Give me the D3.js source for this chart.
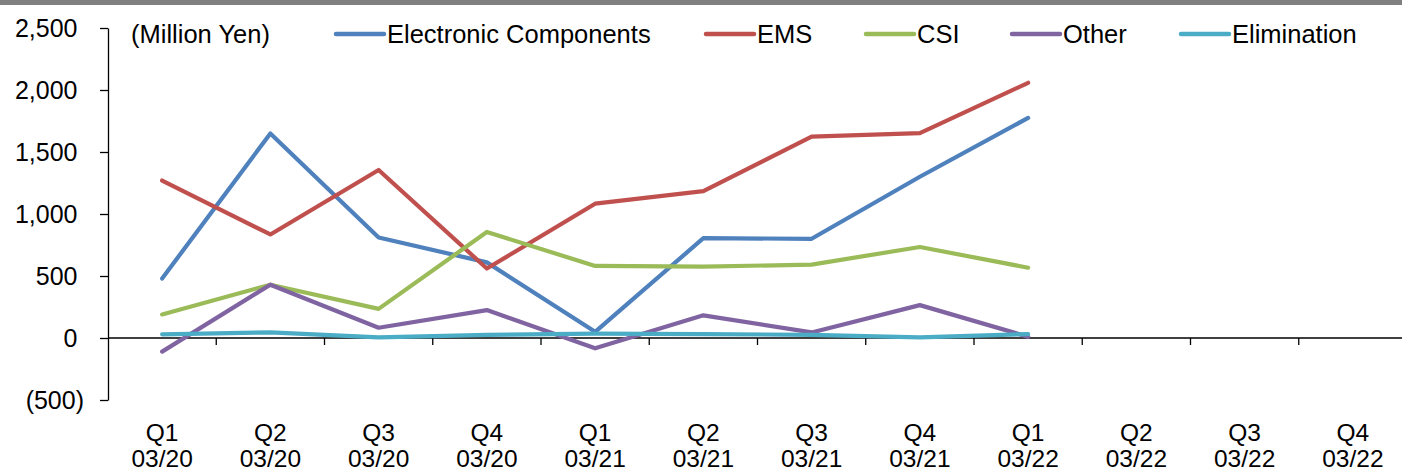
<!DOCTYPE html>
<html>
<head>
<meta charset="utf-8">
<script src="https://cdn.jsdelivr.net/npm/d3@7"></script>
<style>
  html, body { margin: 0; padding: 0; background: #fff; }
  svg { display: block; font-family: "Liberation Sans", Arial, sans-serif; }
</style>
</head>
<body>
<svg id="chart" width="1402" height="472"></svg>
<script>
// Quarterly segment figures (Million Yen)
const quarters = ["Q1", "Q2", "Q3", "Q4", "Q1", "Q2", "Q3", "Q4", "Q1", "Q2", "Q3", "Q4"];
const periods  = ["03/20", "03/20", "03/20", "03/20", "03/21", "03/21", "03/21", "03/21", "03/22", "03/22", "03/22", "03/22"];

const seriesNames = ["Electronic Components", "EMS", "CSI", "Other", "Elimination"];
const electronicComponents = [480, 1650, 810, 610, 50, 805, 800, 1300, 1775];
const ems                  = [1270, 835, 1355, 560, 1083, 1184, 1624, 1652, 2058];
const csi                  = [190, 430, 235, 855, 581, 575, 592, 734, 567];
const other                = [-110, 430, 83, 225, -83, 183, 45, 265, 10];
const elimination          = [30, 45, 5, 25, 35, 32, 25, 5, 32];

const yTicks = [2500, 2000, 1500, 1000, 500, 0, -500];
const unitLabel = "(Million Yen)";

const colors = ["#4F81BD", "#C0504D", "#9BBB59", "#8064A2", "#4BACC6"];
const seriesValues = [electronicComponents, ems, csi, other, elimination];

const svg = d3.select("#chart");
const W = 1402, H = 472;

// grey strip across the top
svg.append("rect").attr("x", 0).attr("y", 0).attr("width", W).attr("height", 5).attr("fill", "#808080");

const plotLeft = 108, plotRight = 1407;
const x = d3.scaleBand().domain(d3.range(quarters.length)).range([plotLeft, plotRight]).padding(0);
const y = d3.scaleLinear().domain([-500, 2500]).range([400, 28]);

const fmt = v => v < 0 ? "(" + d3.format(",")(-v) + ")" : d3.format(",")(v);

// y axis
const yAxis = svg.append("g")
  .attr("transform", `translate(${plotLeft},0)`)
  .call(d3.axisLeft(y).tickValues(yTicks).tickFormat(fmt).tickSizeOuter(0).tickSizeInner(8).tickPadding(24));
yAxis.select(".domain").attr("stroke", "#000").attr("stroke-width", 1.3);
yAxis.selectAll(".tick line").attr("stroke", "#000").attr("stroke-width", 1.3);
yAxis.selectAll(".tick text")
  .attr("fill", "#000")
  .style("font-size", "25px")
  .attr("x", d => d < 0 ? -24 : -30.5);

// zero line with category separators
const y0 = y(0);
svg.append("line")
  .attr("x1", plotLeft).attr("x2", W)
  .attr("y1", y0).attr("y2", y0)
  .attr("stroke", "#000").attr("stroke-width", 1.3);

svg.append("g").selectAll("line")
  .data(d3.range(1, quarters.length))
  .join("line")
  .attr("x1", i => x(i)).attr("x2", i => x(i))
  .attr("y1", y0).attr("y2", y0 + 7)
  .attr("stroke", "#000").attr("stroke-width", 1.3);

// category labels
const cat = svg.append("g").selectAll("text")
  .data(d3.range(quarters.length))
  .join("text")
  .attr("text-anchor", "middle")
  .attr("fill", "#000")
  .style("font-size", "24.5px");
cat.append("tspan")
  .attr("x", i => x(i) + x.bandwidth() / 2)
  .attr("y", 441)
  .text(i => quarters[i]);
cat.append("tspan")
  .attr("x", i => x(i) + x.bandwidth() / 2)
  .attr("y", 466.5)
  .text(i => periods[i]);

// series lines
const line = d3.line()
  .x((d, i) => x(i) + x.bandwidth() / 2)
  .y(d => y(d));

svg.append("g").selectAll("path")
  .data(seriesValues)
  .join("path")
  .attr("d", d => line(d))
  .attr("fill", "none")
  .attr("stroke", (d, i) => colors[i])
  .attr("stroke-width", 4.2)
  .attr("stroke-linejoin", "round")
  .attr("stroke-linecap", "round");

// unit label
svg.append("text")
  .attr("x", 131).attr("y", 43)
  .attr("fill", "#000")
  .style("font-size", "25.5px")
  .text(unitLabel);

// legend
const legendX = [336, 706, 866, 1012, 1181];
const legend = svg.append("g").selectAll("g")
  .data(seriesNames)
  .join("g")
  .attr("transform", (d, i) => `translate(${legendX[i]},34)`);
legend.append("line")
  .attr("x1", 0).attr("x2", 48)
  .attr("y1", 0).attr("y2", 0)
  .attr("stroke", (d, i) => colors[i])
  .attr("stroke-width", 4.5)
  .attr("stroke-linecap", "round");
legend.append("text")
  .attr("x", 51).attr("y", 9)
  .attr("fill", "#000")
  .style("font-size", "25.5px")
  .text(d => d);
</script>
</body>
</html>
